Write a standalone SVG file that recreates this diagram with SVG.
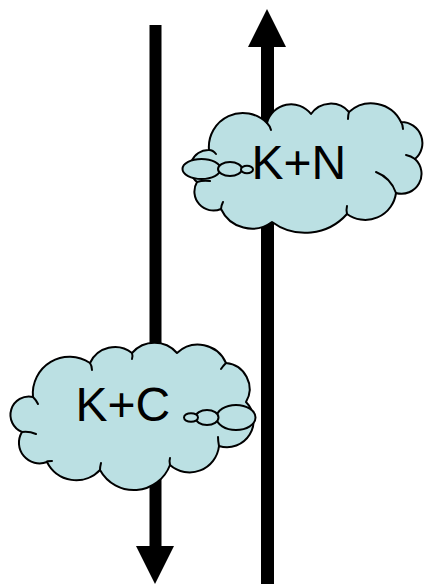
<svg xmlns="http://www.w3.org/2000/svg" width="427" height="584" viewBox="0 0 427 584">
  <style>
    .arrow { fill: #000000; stroke: none; }
    .cloud { fill: #BBE0E3; stroke: #000000; stroke-width: 2; stroke-linejoin: round; }
    .crease { fill: none; stroke: #000000; stroke-width: 2; stroke-linecap: round; }
    .label { font-family: "Liberation Sans", Arial, sans-serif; font-size: 48px; fill: #000000; }
  </style>

  <!-- vertical flows: left one runs down, right one runs up -->
  <g id="connectors">
    <polygon class="arrow" points="149.5,25 161.5,25 161.5,546 174,546 155,584 136,546 149.5,546"/>
    <polygon class="arrow" points="267,9 286,47 274,47 274,584 261,584 261,47 248,47"/>
  </g>

  <!-- K+N thought cloud, bubbles trailing to the left -->
  <g id="cloud-kn">
    <path class="cloud" d="M197,182
      A18,18 0 0 1 209,150
      A34,34 0 0 1 267,123
      A25,25 0 0 1 311,114
      A24,24 0 0 1 349,112
      A33,33 0 0 1 401,122
      A21,21 0 0 1 415,159
      A20,20 0 0 1 396,193
      A31,31 0 0 1 347,214
      A56,56 0 0 1 272,222
      A34,34 0 0 1 221,209
      A19,19 0 0 1 197,182 Z"/>
    <path class="crease" d="M209,150 Q213,150 216,154"/>
    <path class="crease" d="M267,123 Q270,126 271,130"/>
    <path class="crease" d="M349,112 Q348,115 348,119"/>
    <path class="crease" d="M401,122 Q403,125 403,129"/>
    <path class="crease" d="M415,159 Q411,156 406,155"/>
    <path class="crease" d="M396,193 Q391,178 376,172"/>
    <path class="crease" d="M347,214 Q346,210 347,206"/>
    <path class="crease" d="M221,209 Q221,206 223,202"/>
    <path class="crease" d="M197,182 Q203,180 210,181"/>
    <ellipse class="cloud" cx="201.5" cy="169" rx="19" ry="10"/>
    <ellipse class="cloud" cx="230" cy="169" rx="12" ry="7"/>
    <ellipse class="cloud" cx="247" cy="169.5" rx="6" ry="3.8"/>
    <text class="label" x="251.5" y="179">K+N</text>
  </g>

  <!-- K+C thought cloud, bubbles trailing to the right -->
  <g id="cloud-kc">
    <path class="cloud" d="M22,432
      A18.4,18.4 0 0 1 33,397
      A36.7,36.7 0 0 1 90,363
      A27.5,27.5 0 0 1 132,353
      A30,30 0 0 1 177,353
      A30.5,30.5 0 0 1 226,363
      A26,26 0 0 1 246,402
      A26.6,26.6 0 0 1 219,446
      A29.6,29.6 0 0 1 170,465
      A38.6,38.6 0 0 1 100,470
      A32.6,32.6 0 0 1 47,462
      A20.6,20.6 0 0 1 22,432 Z"/>
    <path class="crease" d="M22,432 Q29,431 36,434"/>
    <path class="crease" d="M33,397 Q36,400 38,404"/>
    <path class="crease" d="M90,363 Q92,366 92,370"/>
    <path class="crease" d="M132,353 Q133,356 132,359"/>
    <path class="crease" d="M226,363 Q223,366 221,369"/>
    <path class="crease" d="M219,446 Q218,441 218,437"/>
    <path class="crease" d="M170,465 Q169,461 170,458"/>
    <path class="crease" d="M100,470 Q100,467 101,463"/>
    <path class="crease" d="M47,462 Q46,461 52,461"/>
    <ellipse class="cloud" cx="236" cy="417.5" rx="19.5" ry="12.5"/>
    <ellipse class="cloud" cx="207" cy="417.5" rx="11.5" ry="7.5"/>
    <ellipse class="cloud" cx="191" cy="417.5" rx="7" ry="4.3"/>
    <text class="label" x="75.5" y="421">K+C</text>
  </g>
</svg>
